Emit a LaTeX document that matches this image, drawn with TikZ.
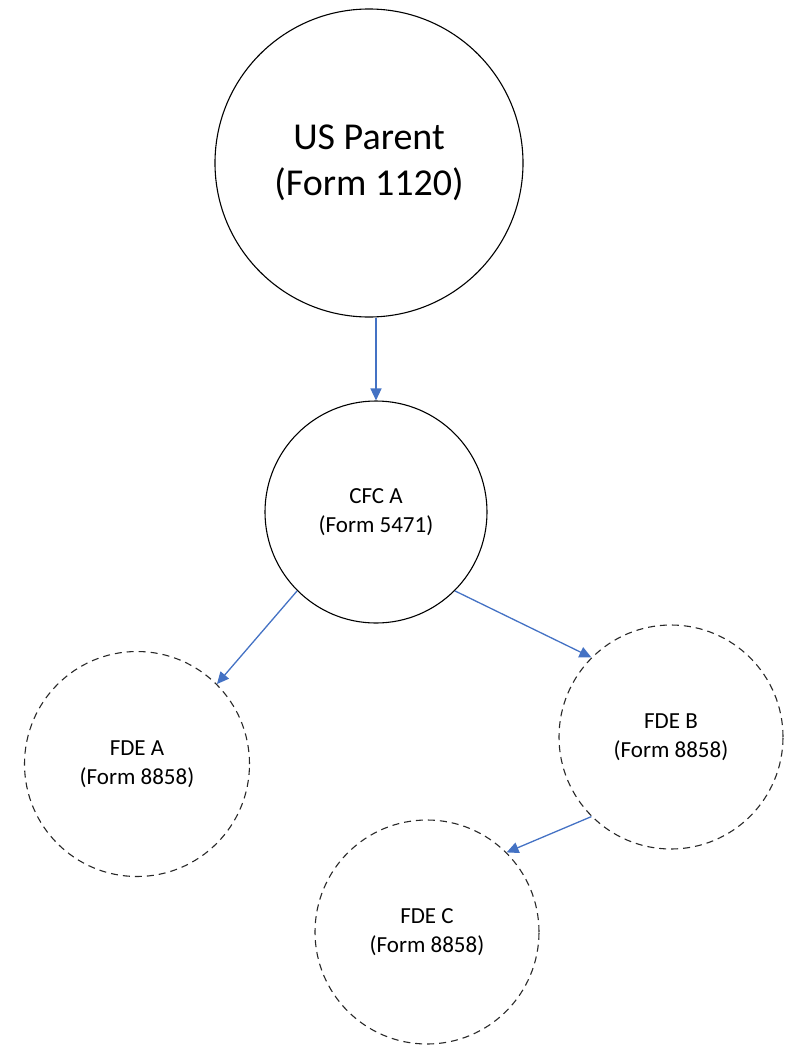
\documentclass[tikz,border=0pt]{standalone}
\usepackage{fontspec}
\setmainfont{Carlito}
\usetikzlibrary{arrows.meta}
\definecolor{arrowblue}{RGB}{68,114,196}
\definecolor{dashgray}{RGB}{40,40,40}
\tikzset{
  solidcirc/.style={circle, draw=black, line width=1.1pt, inner sep=0pt, align=center},
  dashcirc/.style={circle, draw=dashgray, line width=1.1pt, dash pattern=on 7pt off 5pt, inner sep=0pt, align=center},
  bigtext/.style={font=\fontsize{38}{46}\selectfont},
  smalltext/.style={font=\fontsize{23}{29}\selectfont},
  link/.style={draw=arrowblue, line width=1.3pt, -{Triangle[length=12pt,width=11pt]}}
}
\begin{document}
\begin{tikzpicture}[x=1pt,y=-1pt]
\useasboundingbox (0,0) rectangle (795,1047);
\node[solidcirc, bigtext, minimum size=308pt] (us) at (369,163) {US Parent\\(Form 1120)};
\node[solidcirc, smalltext, minimum size=222pt] (cfc) at (376,512) {CFC A\\(Form 5471)};
\node[dashcirc, smalltext, minimum size=225pt] (fdea) at (137,764) {FDE A\\(Form 8858)};
\node[dashcirc, smalltext, minimum size=224pt] (fdeb) at (671,737) {FDE B\\(Form 8858)};
\node[dashcirc, smalltext, minimum size=224pt] (fdec) at (427,932) {FDE C\\(Form 8858)};
\draw[link] (cfc.north |- us.south) -- (cfc.north);
\draw[link] (cfc.225) -- (fdea.45);
\draw[link] (cfc.-45) -- (fdeb.135);
\draw[link] (fdeb.-135) -- (fdec.45);
\end{tikzpicture}
\end{document}
